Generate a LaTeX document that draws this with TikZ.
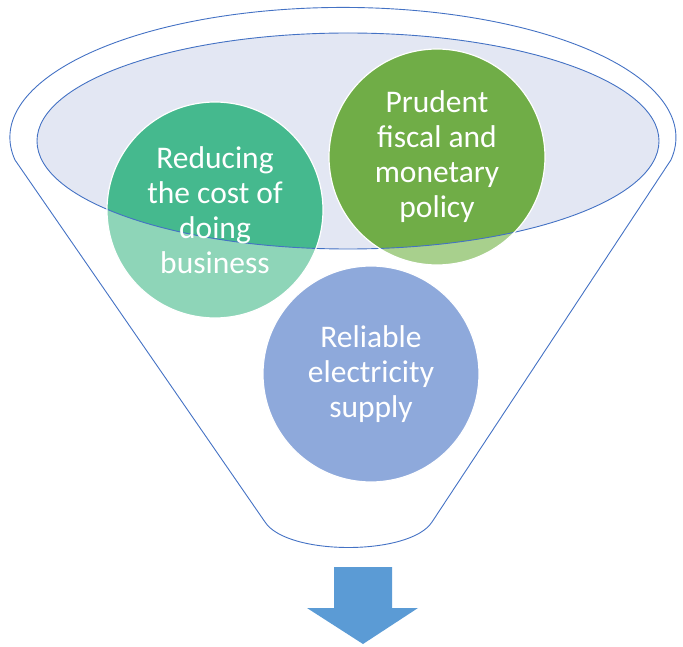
\documentclass[tikz,border=0pt]{standalone}
\usepackage{fontspec}
\setmainfont{Carlito}
\usetikzlibrary{positioning}

\definecolor{funnelblue}{HTML}{4472C4}
\definecolor{rimfill}{HTML}{E3E7F3}
\definecolor{costdark}{HTML}{45B98E}
\definecolor{costlight}{HTML}{8ED5B8}
\definecolor{fiscaldark}{HTML}{70AD47}
\definecolor{fiscallight}{HTML}{A8D08D}
\definecolor{powerblue}{HTML}{8EA9DB}
\definecolor{arrowblue}{HTML}{5B9BD5}

\begin{document}
\begin{tikzpicture}[
    x=1pt, y=1pt,
    funnelline/.style={draw=funnelblue, line width=0.9pt},
    bubble/.style={circle, draw=white, line width=1.2pt, minimum size=216pt, inner sep=0pt, align=center, text=white, font=\fontsize{31.5}{35}\selectfont},
    inrim/.style={path picture={
        \fill[#1] (rim) ellipse [x radius=311pt, y radius=108pt];
        \draw[funnelline] (rim) ellipse [x radius=311pt, y radius=108pt];}}
  ]
    \useasboundingbox (0,0) rectangle (683,-647);
    \coordinate (rim) at (348,-141);

    % Funnel body
    \draw[funnelline, line join=round] (15,-160)
      arc[start angle=190, end angle=-10, x radius=333, y radius=130]
      -- (432,-522) .. controls (410,-556) and (287,-556) .. (265,-522) -- cycle;

    % Opening of the funnel
    \draw[funnelline, fill=rimfill] (rim) ellipse [x radius=311, y radius=108];

    % Circles
    \node[bubble, fill=costlight, inrim=costdark] (cost) at (215,-210) {Reducing\\the cost of\\doing\\business};
    \node[bubble, fill=fiscallight, inrim=fiscaldark] (fiscal) at (437,-157) {Prudent\\fiscal and\\monetary\\policy};
    \node[bubble, fill=powerblue] (power) at (371,-374) {Reliable\\electricity\\supply};

    % Outlet arrow
    \fill[arrowblue] (334,-567) -- (392,-567) -- (392,-608) -- (418,-608) -- (363,-644)
      -- (307,-608) -- (334,-608) -- cycle;
  \end{tikzpicture}
\end{document}
